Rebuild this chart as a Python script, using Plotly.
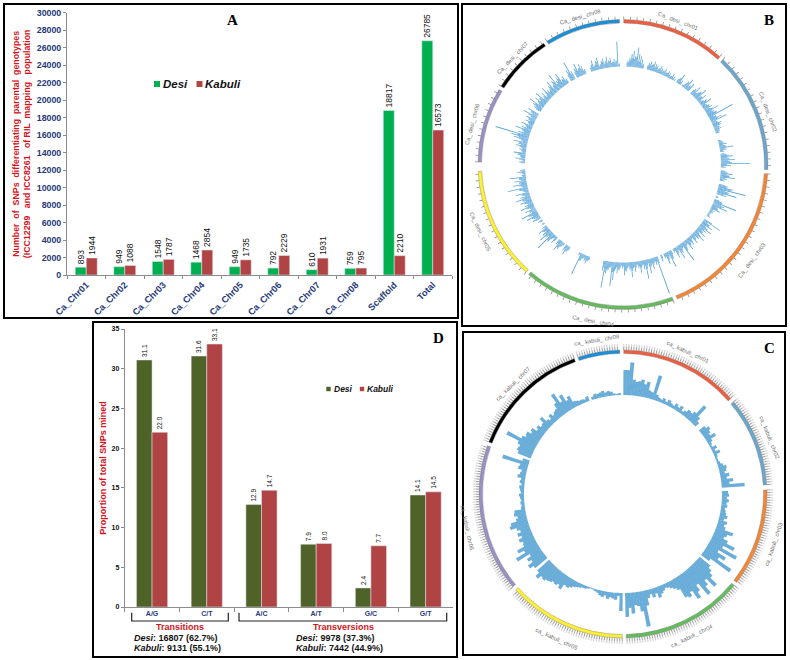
import numpy as np
import plotly.graph_objects as go

W, H = 790, 660

# ---------- panel A data ----------
a_categories = ["Ca_Chr01", "Ca_Chr02", "Ca_Chr03", "Ca_Chr04", "Ca_Chr05", "Ca_Chr06", "Ca_Chr07", "Ca_Chr08", "Scaffold", "Total"]
a_desi = [893, 949, 1548, 1468, 949, 792, 610, 759, 18817, 26785]
a_kabuli = [1944, 1088, 1787, 2854, 1735, 2229, 1931, 795, 2210, 16573]

# ---------- panel D data ----------
d_categories = ["A/G", "C/T", "A/C", "A/T", "G/C", "G/T"]
d_desi = [31.1, 31.6, 12.9, 7.9, 2.4, 14.1]
d_kabuli = [22.0, 33.1, 14.7, 8.0, 7.7, 14.5]

b_chr_names = ["Ca_ desi_ chr01", "Ca_ desi_ chr02", "Ca_ desi_ chr03", "Ca_ desi_ chr04",
               "Ca_ desi_ chr05", "Ca_ desi_ chr06", "Ca_ desi_ chr07", "Ca_ desi_ chr08"]
b_chr_start = [0.3, 43.6, 93.7, 159.7, 222.0, 271.0, 302.7, 328.3]
b_chr_end = [42.0, 92.0, 158.0, 220.6, 267.3, 301.2, 326.8, 358.6]
b_chr01 = [0, 0, 6, 9, 13, 16, 11, 20, 14, 12, 9, 5, 0, 0, 7, 9, 6, 10, 8, 7, 5, 8, 6, 5, 7, 4, 6, 5, 3, 6, 4, 2, 0, 6, 11, 5, 0, 3, 8, 12, 6, 9]
b_chr02 = [7, 11, 5, 9, 13, 6, 10, 4, 8, 12, 5, 7, 9, 6, 14, 8, 10, 27, 7, 12, 17, 6, 9, 8, 6, 7, 5, 4, 0, 0, 0, 0, 3, 5, 8, 6, 14, 7, 4, 0, 6, 12, 8, 14, 9, 29, 10, 5]
b_chr03 = [6, 12, 9, 15, 7, 5, 0, 0, 9, 15, 28, 12, 20, 10, 0, 3, 0, 8, 24, 12, 16, 7, 10, 5, 4, 3, 2, 4, 0, 0,
           19, 8, 12, 6, 14, 9, 7, 11, 5, 13, 8, 6, 10, 4, 9, 7, 12, 5, 8, 21, 5, 9, 14, 6, 11, 4, 0, 8, 17, 6, 12, 5, 0, 7]
b_chr04 = [39, 8, 5, 11, 7, 14, 6, 19, 9, 5, 12, 7, 4, 10, 6, 15, 8, 5, 9, 13, 6, 4, 8, 11, 7, 18, 24, 6, 9, 12, 27, 10,
           0, 0, 0, 0, 0, 0, 0, 0, 5, 8, 6, 4, 7, 23, 3, 0, 0, 0, 0, 0, 0, 6, 10, 7, 0, 5, 9, 12, 6]
b_chr05 = [8, 4, 10, 21, 7, 14, 9, 6, 11, 5, 0, 3, 0, 5, 0, 9, 6, 13, 8, 17, 7, 11, 5, 14, 9, 6, 12, 8, 15, 10, 7, 13, 5, 9, 20, 6, 14, 8, 12, 7, 16, 4, 3, 8, 5]
b_chr06 = [6, 3, 10, 5, 8, 12, 4, 7, 5, 11, 9, 14, 7, 15, 18, 35, 12, 8, 16, 10, 6, 12, 5, 9, 7, 10, 6, 15, 8, 12]
b_chr07 = [8, 11, 16, 7, 12, 9, 14, 6, 10, 5, 13, 8, 6, 10, 14, 7, 12, 18, 9, 11, 15, 7, 9, 5]
b_chr08 = [12, 20, 9, 0, 10, 14, 8, 12, 9, 5, 0, 0, 0, 6, 11, 5, 9, 12, 4, 8, 10, 6, 11, 7, 9, 5, 8, 6, 25, 3]
b_series = [b_chr01, b_chr02, b_chr03, b_chr04, b_chr05, b_chr06, b_chr07, b_chr08]

# shorter spikes sitting between the tall ones
b_minor01 = [0, 0, 4, 5, 7, 9, 8, 10, 7, 6, 5, 3, 0, 0, 4, 6, 5, 7, 4, 5, 3, 5, 4, 3, 4, 3, 4, 3, 2, 3, 2, 0, 0, 4, 6, 3, 0, 2, 5, 7, 4, 5]
b_minor02 = [5, 6, 4, 7, 8, 5, 6, 3, 5, 7, 4, 5, 6, 5, 8, 6, 7, 9, 5, 7, 8, 5, 6, 7, 5, 5, 4, 3, 0, 0, 0, 0, 2, 4, 5, 4, 7, 5, 3, 0, 4, 8, 6, 9, 7, 11, 6, 3]
b_minor03 = [4, 7, 6, 9, 5, 3, 0, 0, 6, 9, 13, 8, 11, 7, 0, 2, 0, 5, 9, 8, 10, 5, 7, 3, 3, 2, 2, 3, 0, 0,
             9, 5, 8, 5, 9, 6, 5, 7, 4, 8, 6, 4, 7, 3, 6, 5, 8, 4, 6, 10, 4, 6, 8, 4, 7, 3, 0, 5, 9, 4, 8, 4, 0, 4]
b_minor04 = [7, 5, 4, 7, 5, 8, 4, 9, 6, 4, 7, 5, 3, 6, 5, 9, 6, 4, 6, 8, 4, 3, 6, 7, 5, 9, 10, 5, 6, 8, 11, 7,
             0, 0, 0, 0, 0, 0, 0, 0, 3, 5, 4, 3, 5, 8, 2, 0, 0, 0, 0, 0, 0, 4, 6, 5, 0, 3, 6, 8, 4]
b_minor05 = [5, 3, 6, 9, 5, 8, 6, 4, 7, 3, 0, 2, 0, 3, 0, 6, 4, 8, 6, 10, 5, 7, 4, 8, 6, 5, 8, 6, 9, 7, 5, 8, 4, 6, 9, 5, 8, 6, 7, 5, 7, 3, 2, 5, 3]
b_minor06 = [4, 2, 6, 4, 5, 7, 3, 5, 4, 7, 6, 8, 5, 9, 10, 12, 8, 6, 9, 7, 5, 8, 4, 6, 5, 7, 5, 9, 6, 8]
b_minor07 = [5, 7, 9, 5, 8, 6, 8, 5, 7, 4, 8, 6, 5, 7, 9, 5, 8, 10, 6, 7, 9, 5, 6, 4]
b_minor08 = [7, 9, 6, 0, 6, 8, 6, 8, 6, 4, 0, 0, 0, 4, 7, 4, 6, 8, 3, 5, 7, 4, 7, 5, 6, 4, 5, 4, 6, 2]
b_minor = [b_minor01, b_minor02, b_minor03, b_minor04, b_minor05, b_minor06, b_minor07, b_minor08]

# ---------- panel C data ----------
c_chr_names = ["ca_ kabuli_ chr01", "ca_ kabuli_ chr02", "ca_ kabuli_ chr03", "ca_ kabuli_ chr04",
               "ca_ kabuli_ chr05", "ca_ kabuli_ chr06", "ca_ kabuli_ chr07", "ca_ kabuli_ chr08"]
c_chr_start = [0.3, 50.2, 88.4, 129.4, 180.3, 229.9, 291.2, 341.8]
c_chr_end = [48.5, 86.3, 127.9, 178.7, 228.2, 289.6, 340.2, 358.7]
c_chr01 = [25, 25, 33, 16, 14, 15, 17, 13, 16, 8, 7, 25, 6, 4, 3, 5, 3, 6, 4, 3, 6, 4, 7, 3, 5, 8, 7, 10, 21, 9, 5, 0]
c_chr02 = [7, 10, 8, 6, 11, 5, 3, 2, 6, 3, 7, 3, 2, 2, 3, 5, 8, 7, 5, 9, 6, 12, 8, 23]
c_chr03 = [6, 7, 5, 7, 5, 6, 4, 5, 6, 8, 5, 9, 7, 9, 18, 13, 11, 16, 25, 14, 31, 12, 22, 16, 33, 10]
c_chr04 = [14, 18, 22, 31, 20, 25, 33, 18, 24, 30, 20, 24, 22, 12, 9, 7, 5, 4, 6, 8, 11, 6, 9, 5, 8, 15, 36, 20, 14, 13, 21, 15, 24]
c_chr05 = [18, 3, 7, 6, 5, 7, 4, 6, 5, 3, 2, 1, 1, 2, 3, 3, 4, 5, 6, 8, 10, 9, 15, 12, 14, 13, 15, 16, 18, 17, 21, 16]
c_chr06 = [16, 20, 14, 17, 12, 26, 15, 21, 13, 12, 15, 11, 14, 10, 13, 19, 17, 11, 9, 12, 11, 4, 3, 4, 3, 4, 5, 3, 4, 5, 3, 5, 4, 8, 6, 5, 9, 8, 27, 7]
c_chr07 = [14, 16, 15, 18, 32, 17, 14, 15, 11, 13, 8, 10, 7, 8, 13, 7, 5, 9, 6, 8, 9, 14, 23, 12, 18, 10, 13, 6, 5, 4, 4, 3, 5]
c_chr08 = [3, 5, 4, 5, 6, 4, 5, 4, 2, 1, 2]
c_series = [c_chr01, c_chr02, c_chr03, c_chr04, c_chr05, c_chr06, c_chr07, c_chr08]

ring_colors = ["#EC5F40", "#6BA6CD", "#F58634", "#66BB5E", "#FFF033", "#9A90C4", "#000000", "#1B8FD8"]

# label placement around the circles: bearing (deg) and radius (px)
b_label_theta = [21, 69.8, 126.6, 190.8, 245, 285, 314, 343.6]
b_label_r = [154, 154, 161, 159, 158, 156, 154, 154]
c_label_theta = [24.6, 68.7, 108.4, 154.2, 204.6, 257.8, 315, 350.4]
c_label_r = [156, 157, 159, 158, 159, 159, 156, 156]

B_CY, C_CY = 164.5, 494


def px(x):
    return x / W


def py(y):
    return 1 - y / H


FONT = "Liberation Sans"
NAVY = "#1F3A7A"
RED = "#D2141E"
GRID = "#8C8C8C"
A_GREEN, D_GREEN, BRICK = "#00B050", "#4F6228", "#B04444"

fig = go.Figure()

# ---------- bars A ----------
fig.add_bar(x=a_categories, y=a_desi, name="Desi", marker_color=A_GREEN,
            text=[str(v) for v in a_desi], textposition="outside", textangle=-90, cliponaxis=False,
            constraintext="none", textfont=dict(size=8.5, color="#111", family=FONT))
fig.add_bar(x=a_categories, y=a_kabuli, name="Kabuli", marker_color=BRICK,
            text=[str(v) for v in a_kabuli], textposition="outside", textangle=-90, cliponaxis=False,
            constraintext="none", textfont=dict(size=8.5, color="#111", family=FONT))

# ---------- bars D ----------
fig.add_bar(x=d_categories, y=d_desi, name="Desi", marker_color=D_GREEN, xaxis="x2", yaxis="y2",
            text=[f"{v:.1f}" for v in d_desi], textposition="outside", textangle=-90, cliponaxis=False,
            constraintext="none", textfont=dict(size=6.5, color="#111", family=FONT))
fig.add_bar(x=d_categories, y=d_kabuli, name="Kabuli", marker_color=BRICK, xaxis="x2", yaxis="y2",
            text=[f"{v:.1f}" for v in d_kabuli], textposition="outside", textangle=-90, cliponaxis=False,
            constraintext="none", textfont=dict(size=6.5, color="#111", family=FONT))


def add_circle(subplot, starts, ends, series, inner, bar_width, bar_color, tick_step, tick_color, tick_w,
               ring_in, ring_out, tick_out, minor=None, halo=None):
    # coloured ring
    for s, e, col in zip(starts, ends, ring_colors):
        fig.add_barpolar(subplot=subplot, theta=[(s + e) / 2], r=[ring_out - ring_in], base=[ring_in],
                         width=[e - s], marker=dict(color=col, line=dict(width=0.4, color="#777")),
                         showlegend=False, hoverinfo="skip")
    # tick marks
    th = []
    for s, e in zip(starts, ends):
        th.extend(np.arange(s, e + 0.01, tick_step).tolist())
    fig.add_barpolar(subplot=subplot, theta=th, r=[tick_out - ring_out] * len(th), base=[ring_out] * len(th),
                     width=[tick_w] * len(th), marker=dict(color=tick_color, line=dict(width=0)),
                     showlegend=False, hoverinfo="skip")
    if halo is not None:
        fig.add_barpolar(subplot=subplot, theta=th, r=[halo - tick_out] * len(th), base=[tick_out] * len(th),
                         width=[tick_w * 1.2] * len(th), marker=dict(color="#D4D4D4", line=dict(width=0)),
                         showlegend=False, hoverinfo="skip")
    # data bars
    th, rr = [], []
    for s, e, vals in zip(starts, ends, series):
        step = (e - s) / len(vals)
        for i, v in enumerate(vals):
            if v > 0:
                th.append(s + step * (i + 0.5))
                rr.append(v)
    if minor is not None:
        for s, e, vals in zip(starts, ends, minor):
            step = (e - s) / len(vals)
            for i, v in enumerate(vals):
                if v > 0:
                    th.append(s + step * i)
                    rr.append(v)
    fig.add_barpolar(subplot=subplot, theta=th, r=rr, base=[inner] * len(rr), width=[bar_width] * len(rr),
                     marker=dict(color=bar_color, line=dict(width=0)),
                     showlegend=False, hoverinfo="skip")


add_circle("polar", b_chr_start, b_chr_end, b_series, 98, 0.42, "#5AA5DA", 2.6, "#8A8A8A", 0.3, 141.5, 145, 148, minor=b_minor)
add_circle("polar2", c_chr_start, c_chr_end, c_series, 99, 1.72, "#69ADD8", 1.0, "#9A9A9A", 0.38, 140.5, 144, 147.5, halo=150)

layout_polar = dict(
    radialaxis=dict(visible=False, range=[0, 155]),
    angularaxis=dict(visible=False, direction="clockwise", rotation=90),
    bgcolor="rgba(0,0,0,0)",
)

axis_font = dict(family=FONT, size=8.8, color=NAVY, weight="bold")

fig.update_layout(
    width=W, height=H,
    margin=dict(l=0, r=0, t=0, b=0, autoexpand=False),
    paper_bgcolor="white", plot_bgcolor="white",
    barmode="group", bargap=0.43, bargroupgap=0,
    font=dict(family=FONT),
    showlegend=False,
    xaxis=dict(domain=[px(67), px(452)], anchor="y", tickson="boundaries", ticks="outside", ticklen=3, tickcolor=GRID,
               linecolor=GRID, showline=True, tickangle=-45, tickfont=dict(family=FONT, size=9.2, color=NAVY, weight="bold"),
               showgrid=False, zeroline=False, automargin=False),
    yaxis=dict(domain=[py(275), py(12.7)], anchor="x", range=[0, 30000], dtick=2000, tickformat="d", ticks="outside", ticklen=3,
               tickcolor=GRID, linecolor=GRID, showline=True, tickfont=axis_font, showgrid=False, zeroline=False,
               automargin=False,
               title=dict(text="Number  of  SNPs  differentiating  parental  genotypes<br>(ICC12299   and ICC8261   of RIL  mapping   population",
                          font=dict(family=FONT, size=8.8, color=RED, weight="bold"), standoff=4)),
    xaxis2=dict(domain=[px(124.7), px(453)], anchor="y2", tickson="boundaries", ticks="outside", ticklen=4, tickcolor=GRID,
                linecolor=GRID, showline=True, tickfont=dict(family=FONT, size=7, color=NAVY, weight="bold"),
                tickangle=0, showgrid=False, zeroline=False, automargin=False),
    yaxis2=dict(domain=[py(607), py(329)], anchor="x2", range=[0, 35], dtick=5, ticks="outside", ticklen=3,
                tickcolor=GRID, linecolor=GRID, showline=True, tickfont=dict(family=FONT, size=7, color="#111", weight="bold"),
                showgrid=False, zeroline=False, automargin=False,
                title=dict(text="Proportion of total SNPs mined", font=dict(family=FONT, size=9, color=RED, weight="bold"), standoff=3)),
    polar=dict(domain=dict(x=[px(468), px(778)], y=[py(B_CY + 155), py(B_CY - 155)]), barmode="overlay", **layout_polar),
    polar2=dict(domain=dict(x=[px(468), px(778)], y=[py(C_CY + 155), py(C_CY - 155)]), barmode="overlay", **layout_polar),
)

# ---------- panel frames ----------
shapes = []
for x0, y0, x1, y1 in [(4, 4, 458, 318), (462, 4, 786, 326), (463, 332, 785, 655), (93, 322, 457, 657)]:
    shapes.append(dict(type="rect", xref="paper", yref="paper", x0=px(x0), x1=px(x1), y0=py(y0), y1=py(y1),
                       line=dict(color="black", width=2), layer="above"))
# brackets under panel D
for x0, x1 in [(131.7, 228.3), (239, 446.7)]:
    path = f"M {px(x0)},{py(612.7)} L {px(x0)},{py(621)} L {px(x1)},{py(621)} L {px(x1)},{py(612.7)}"
    shapes.append(dict(type="path", xref="paper", yref="paper", path=path, line=dict(color="#222", width=1.2)))
# legend swatches
for x, y, s, col in [(157, 84, 3, A_GREEN), (199.5, 84, 3, BRICK), (328.5, 389, 2.2, D_GREEN), (362, 389, 2.2, BRICK)]:
    shapes.append(dict(type="rect", xref="paper", yref="paper", x0=px(x - s), x1=px(x + s), y0=py(y - s), y1=py(y + s),
                       fillcolor=col, line=dict(width=0)))
fig.update_layout(shapes=shapes)

# ---------- text ----------
ann = []


def text(x, y, s, size, color="#111", family=FONT, xanchor="center", angle=0):
    ann.append(dict(xref="paper", yref="paper", x=px(x), y=py(y), text=s, showarrow=False, xanchor=xanchor,
                    yanchor="middle", textangle=angle, font=dict(family=family, size=size, color=color)))


text(232, 20, "<b>A</b>", 15, "black", "Liberation Serif")
text(769, 20, "<b>B</b>", 15, "black", "Liberation Serif")
text(769, 348, "<b>C</b>", 15, "black", "Liberation Serif")
text(439, 338, "<b>D</b>", 15, "black", "Liberation Serif")

text(161, 84, "<b><i>Desi</i></b>", 11.5, xanchor="left")
text(203, 84, "<b><i>Kabuli</i></b>", 11.5, xanchor="left")
text(331.5, 389, "<b><i>Desi</i></b>", 8.5, xanchor="left")
text(365, 389, "<b><i>Kabuli</i></b>", 8.5, xanchor="left")

text(180, 627, "<b>Transitions</b>", 9, RED)
text(343, 627, "<b>Transversions</b>", 9, RED)
text(132, 637.5, "<b><i>Desi</i>: 16807 (62.7%)</b>", 9, "#111", xanchor="left")
text(132, 647.5, "<b><i>Kabuli</i>: 9131 (55.1%)</b>", 9, "#111", xanchor="left")
text(294, 637.5, "<b><i>Desi</i>: 9978 (37.3%)</b>", 9, "#111", xanchor="left")
text(294, 647.5, "<b><i>Kabuli</i>: 7442 (44.9%)</b>", 9, "#111", xanchor="left")

for names, thetas, radii, cy in [(b_chr_names, b_label_theta, b_label_r, B_CY), (c_chr_names, c_label_theta, c_label_r, C_CY)]:
    for n, t, r in zip(names, thetas, radii):
        a = np.radians(t)
        rot = t - 180 if 90 < t < 270 else (t if t <= 90 else t - 360)
        text(623 + r * np.sin(a), cy - r * np.cos(a), n, 5.8, "#707070", angle=rot)

fig.update_layout(annotations=ann)

fig.write_html("out.html", config=dict(displayModeBar=False),
               post_script="document.body.style.margin='0';document.body.style.overflow='hidden';")
